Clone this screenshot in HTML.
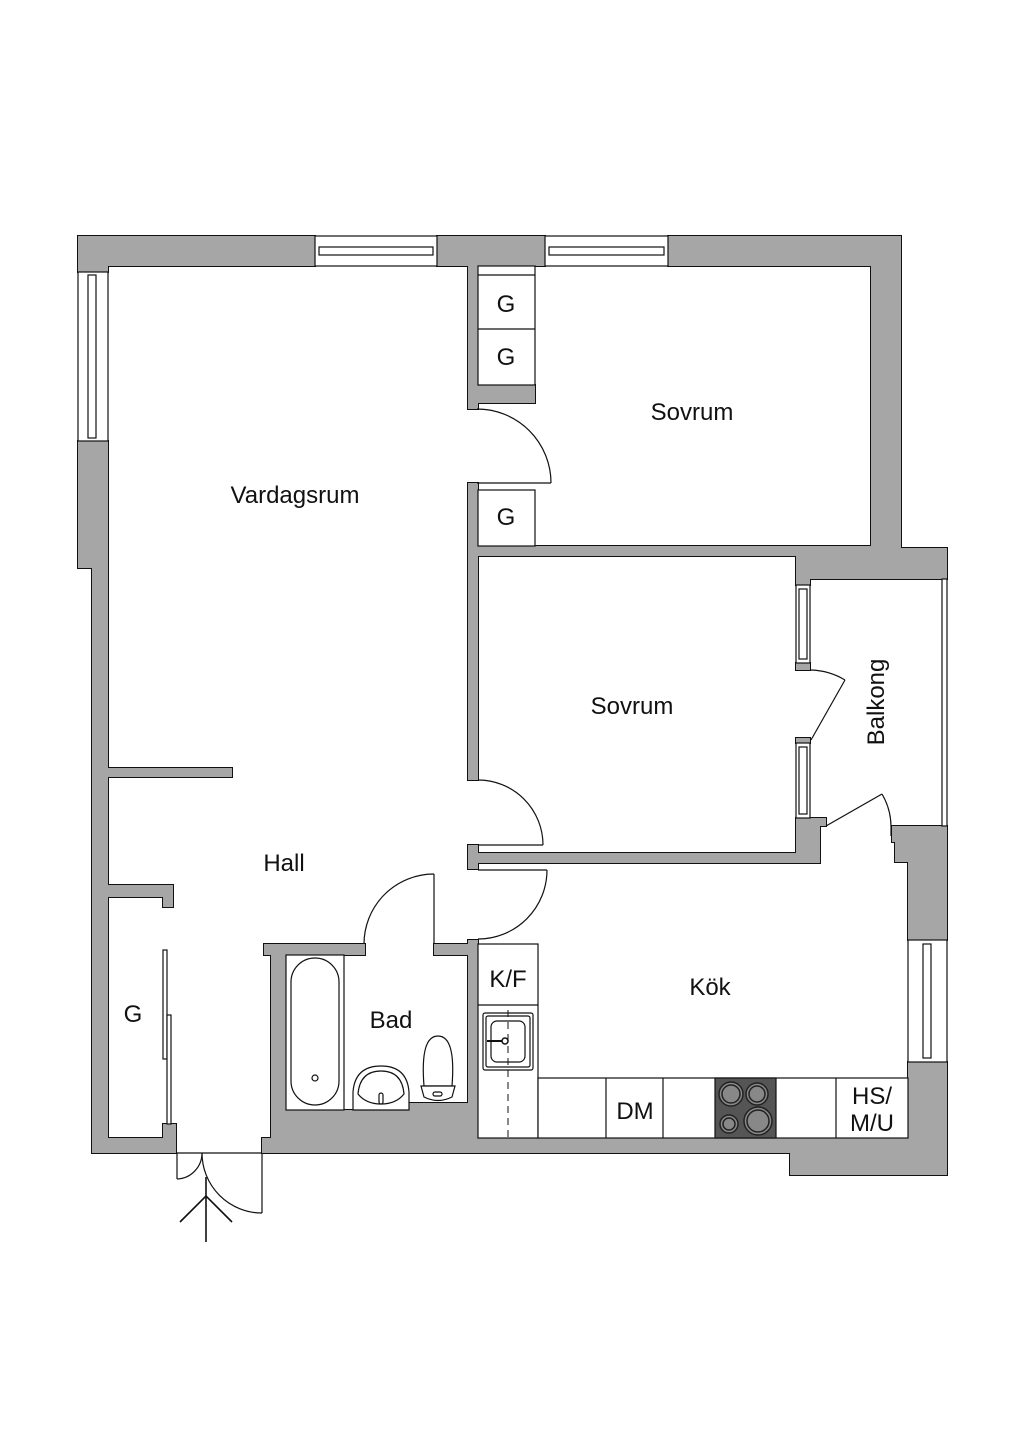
<!DOCTYPE html>
<html><head><meta charset="utf-8"><style>
html,body{margin:0;padding:0;background:#fff;}
svg{display:block;}
text{font-family:"Liberation Sans",sans-serif;fill:#111;}
</style></head><body>
<svg width="1024" height="1448" viewBox="0 0 1024 1448" xmlns="http://www.w3.org/2000/svg">
<defs>
<g id="walls">
<rect x="78" y="236" width="237" height="30"/>
<rect x="437" y="236" width="108" height="30"/>
<rect x="668" y="236" width="233" height="30"/>
<rect x="78" y="236" width="30" height="36"/>
<rect x="78" y="441" width="30" height="127"/>
<rect x="92" y="560" width="16" height="593"/>
<rect x="92" y="1138" width="84" height="15"/>
<rect x="163" y="1124" width="13" height="29"/>
<rect x="262" y="1138" width="16" height="15"/>
<rect x="271" y="1110" width="207" height="43"/>
<rect x="408" y="1103" width="70" height="10"/>
<rect x="271" y="944" width="15" height="209"/>
<rect x="264" y="944" width="101" height="11"/>
<rect x="434" y="944" width="34" height="11"/>
<rect x="468" y="940" width="10" height="213"/>
<rect x="478" y="1138" width="469" height="15"/>
<rect x="790" y="1150" width="157" height="25"/>
<rect x="108" y="768" width="124" height="9"/>
<rect x="108" y="885" width="65" height="12"/>
<rect x="163" y="885" width="10" height="22"/>
<rect x="468" y="266" width="10" height="143"/>
<rect x="468" y="483" width="10" height="297"/>
<rect x="468" y="845" width="10" height="24"/>
<rect x="478" y="385" width="57" height="18"/>
<rect x="468" y="546" width="403" height="10"/>
<rect x="871" y="266" width="30" height="290"/>
<rect x="796" y="548" width="151" height="31"/>
<rect x="796" y="548" width="14" height="37"/>
<rect x="796" y="663" width="14" height="7"/>
<rect x="796" y="738" width="14" height="5"/>
<rect x="796" y="818" width="30" height="8"/>
<rect x="796" y="818" width="24" height="45"/>
<rect x="478" y="853" width="342" height="10"/>
<rect x="892" y="826" width="55" height="16"/>
<rect x="895" y="840" width="52" height="22"/>
<rect x="908" y="860" width="39" height="80"/>
<rect x="908" y="1062" width="39" height="113"/>
</g>
</defs>
<g fill="#a6a6a6" stroke="#111" stroke-width="2"><use href="#walls"/></g>
<g fill="#a6a6a6" stroke="none"><use href="#walls"/></g>

<g fill="#fff" stroke="#111" stroke-width="1.2">
<!-- windows -->
<rect x="315" y="236" width="122" height="30"/>
<rect x="319" y="247" width="114" height="8"/>
<rect x="545" y="236" width="123" height="30"/>
<rect x="549" y="247" width="115" height="8"/>
<rect x="78" y="272" width="30" height="169"/>
<rect x="88" y="275" width="8" height="163"/>
<rect x="796" y="585" width="14" height="78"/>
<rect x="799" y="589" width="8" height="70"/>
<rect x="796" y="743" width="14" height="75"/>
<rect x="799" y="747" width="8" height="67"/>
<rect x="908" y="940" width="39" height="122"/>
<rect x="923" y="944" width="8" height="114"/>
<!-- balcony rail -->
<rect x="942" y="579" width="5" height="247"/>
<!-- closets -->
<rect x="478" y="266" width="57" height="119"/>
<line x1="478" y1="275" x2="535" y2="275"/>
<line x1="478" y1="329" x2="535" y2="329"/>
<rect x="478" y="490" width="57" height="56"/>
<!-- sliding doors -->
<rect x="163" y="950" width="4" height="109"/>
<rect x="167" y="1015" width="4" height="109"/>
<!-- kitchen counters -->
<rect x="478" y="944" width="60" height="194"/>
<line x1="478" y1="1005" x2="538" y2="1005"/>
<rect x="538" y="1078" width="370" height="60"/>
<line x1="606" y1="1078" x2="606" y2="1138"/>
<line x1="663" y1="1078" x2="663" y2="1138"/>
<line x1="836" y1="1078" x2="836" y2="1138"/>
<rect x="483" y="1013" width="50" height="57" rx="2"/>
<rect x="486" y="1016" width="44" height="51" rx="2"/>
<rect x="491" y="1021" width="34" height="41" rx="6"/>
</g>
<line x1="508" y1="1010" x2="508" y2="1138" stroke="#111" stroke-width="1" stroke-dasharray="7,5"/>
<line x1="487" y1="1041" x2="505" y2="1041" stroke="#111" stroke-width="2"/>
<circle cx="505" cy="1041" r="3" fill="#fff" stroke="#111" stroke-width="1.5"/>
<!-- stove -->
<rect x="715" y="1078" width="61" height="60" fill="#555" stroke="#111" stroke-width="1.2"/>
<g fill="#888" stroke="#222" stroke-width="1.5">
<circle cx="731" cy="1094" r="12"/><circle cx="731" cy="1094" r="9"/>
<circle cx="757" cy="1094" r="11"/><circle cx="757" cy="1094" r="8"/>
<circle cx="729" cy="1124" r="9"/><circle cx="729" cy="1124" r="6"/>
<circle cx="758" cy="1121" r="14"/><circle cx="758" cy="1121" r="11"/>
</g>
<!-- bathroom fixtures -->
<g fill="#fff" stroke="#111" stroke-width="1.2">
<rect x="286" y="955" width="58" height="155"/>
<rect x="291" y="958" width="48" height="147" rx="24"/>
<circle cx="315" cy="1078" r="3"/>
<path d="M353 1110 L353 1092 Q355 1066 381 1066 Q407 1066 409 1092 L409 1110 Z"/>
<path d="M358 1094 Q360 1071 381 1071 Q402 1071 404 1094 Q396 1104 381 1104 Q366 1104 358 1094 Z"/>
<rect x="379" y="1093" width="4" height="11" rx="2"/>
<path d="M424 1086 Q420 1036 438 1036 Q456 1036 452 1086 Z"/>
<path d="M421 1086 L455 1086 L452 1097 Q438 1104 424 1097 Z"/>
<rect x="433" y="1092" width="9" height="4" rx="2"/>
</g>
<!-- doors -->
<g fill="none" stroke="#111" stroke-width="1.2">
<line x1="477" y1="483" x2="551" y2="483"/><path d="M477 409 A74 74 0 0 1 551 483"/>
<line x1="478" y1="845" x2="543" y2="845"/><path d="M478 780 A65 65 0 0 1 543 845"/>
<line x1="478" y1="870" x2="547" y2="870"/><path d="M547 870 A69 69 0 0 1 478 939"/>
<line x1="434" y1="944" x2="434" y2="874"/><path d="M434 874 A70 70 0 0 0 364 944"/>
<line x1="811" y1="740" x2="845" y2="680"/><path d="M811 670 A70 70 0 0 1 845 680"/>
<line x1="826" y1="826" x2="882" y2="794"/><path d="M882 794 A65 65 0 0 1 891 826"/>
<line x1="891" y1="826" x2="891" y2="836"/>
<line x1="176" y1="1153" x2="262" y2="1153"/>
<line x1="177" y1="1153" x2="177" y2="1179"/><path d="M177 1179 A26 26 0 0 0 202 1153"/>
<line x1="262" y1="1153" x2="262" y2="1213"/><path d="M262 1213 A60 60 0 0 1 202 1153"/>
<line x1="206" y1="1177" x2="206" y2="1242" stroke-width="1.6"/>
<polyline points="180,1222 206,1196 232,1222" stroke-width="1.6"/>
</g>
<!-- labels -->
<g font-size="24" text-anchor="middle">
<text x="295" y="503">Vardagsrum</text>
<text x="692" y="420">Sovrum</text>
<text x="632" y="714">Sovrum</text>
<text x="284" y="871">Hall</text>
<text x="391" y="1028">Bad</text>
<text x="710" y="995">Kök</text>
<text x="506" y="312">G</text>
<text x="506" y="365">G</text>
<text x="506" y="525">G</text>
<text x="133" y="1022">G</text>
<text x="508" y="987">K/F</text>
<text x="635" y="1119">DM</text>
<text x="872" y="1104">HS/</text>
<text x="872" y="1131">M/U</text>
<text transform="translate(884,702) rotate(-90)">Balkong</text>
</g>
</svg>
</body></html>
